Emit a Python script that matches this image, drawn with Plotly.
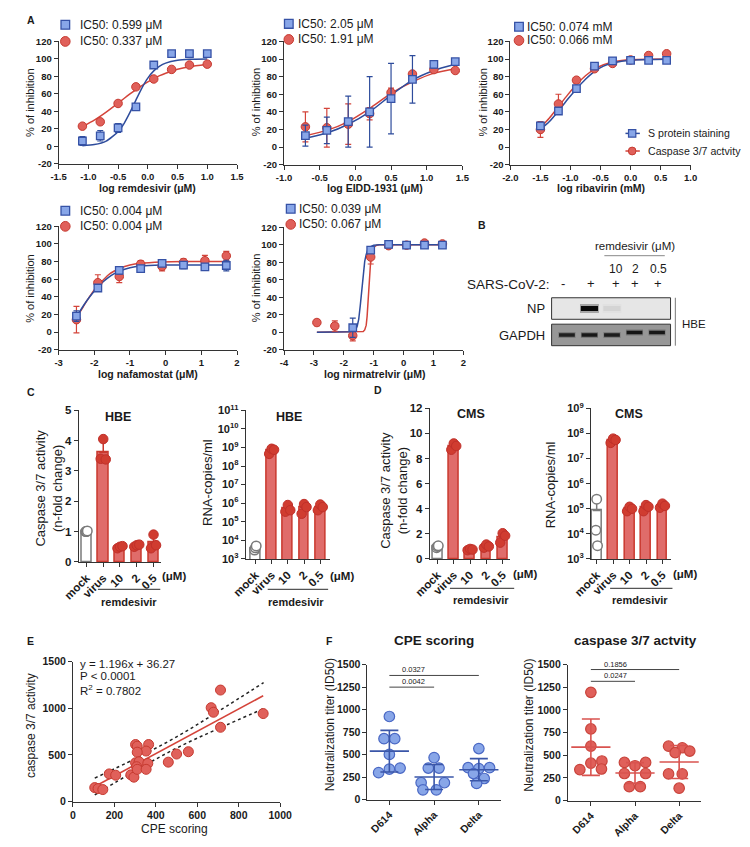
import numpy as np
import plotly.graph_objects as go

# The page shows the figure inside the default 8px body margin.
OFF = 8
W, H = 734, 831
FONT = "Liberation Sans, Arial, Helvetica, sans-serif"
TXT = "#1a1a1a"
AXC = "#333333"
BLUE_FILL = "#88a6e8"
BLUE_EDGE = "#3652a6"
BLUE_LINE = "#2e4c9c"
RED_FILL = "#e0605a"
RED_EDGE = "#c63a30"
RED_LINE = "#d4443a"
BAR_FILL = "#e06c6a"
BAR_EDGE = "#c9382e"
DOT_RED = "#d03c30"
MOCK_GRAY = "#7a7a7a"

# ---------------- Panel A data ----------------
a_ytick_vals = [-20, 0, 20, 40, 60, 80, 100, 120]
a_ytick_text = ["-20", "0", "20", "40", "60", "80", "100", "120"]
ic50_s_labels = ["IC50: 0.599 \u03bcM", "IC50: 2.05 \u03bcM", "IC50: 0.074 mM", "IC50: 0.004 \u03bcM", "IC50: 0.039 \u03bcM"]
ic50_c_labels = ["IC50: 0.337 \u03bcM", "IC50: 1.91 \u03bcM", "IC50: 0.066 mM", "IC50: 0.004 \u03bcM", "IC50: 0.067 \u03bcM"]
a_xtitles = ["log remdesivir (\u03bcM)", "log EIDD-1931 (\u03bcM)", "log ribavirin (mM)",
             "log nafamostat (\u03bcM)", "log nirmatrelvir (\u03bcM)"]

# A1 remdesivir
rem_x = [-1.1, -0.8, -0.5, -0.2, 0.1, 0.4, 0.7, 1.0]
rem_s = [6, 12, 21, 45, 93, 106, 106, 106]
rem_s_err = [5, 6, 5, 3, 2, 1.5, 1.5, 1.5]
rem_c = [23, 28, 49, 68, 77, 88, 93, 94]
rem_c_err = [1, 1.5, 1.5, 1.5, 1, 1, 1, 1]
rem_fit_x = [-1.1, -0.9, -0.7, -0.5, -0.4, -0.3, -0.2, -0.1, 0.0, 0.1, 0.2, 0.3, 0.5, 0.7, 1.0]
rem_fit_s = [0.6, 1.9, 5.9, 16.7, 26, 38.7, 52.9, 66.6, 78, 86.3, 91.8, 95.2, 98.4, 99.5, 99.9]
rem_fit_c = [22.5, 29.9, 39.1, 49.4, 54.7, 59.9, 64.9, 69.5, 73.7, 77.5, 80.8, 83.6, 88.1, 91.1, 94.0]
rem_xticks = [-1.5, -1.0, -0.5, 0.0, 0.5, 1.0, 1.5]
rem_xtick_text = ["-1.5", "-1.0", "-0.5", "0.0", "0.5", "1.0", "1.5"]

# A2 EIDD-1931
eidd_x = [-0.7, -0.4, -0.1, 0.2, 0.5, 0.8, 1.1, 1.4]
eidd_s = [13, 19, 29, 40, 55, 77, 94, 97]
eidd_s_err = [12, 15, 29, 40, 40, 27, 4, 1]
eidd_c = [23, 22, 26, 38, 62, 83, 88, 87]
eidd_c_err = [17, 22, 23, 7, 5, 2, 3, 1]
eidd_fit_x = [-0.7, -0.4, -0.1, 0.2, 0.5, 0.8, 1.1, 1.4]
eidd_fit_s = [10, 16, 26, 40, 59, 76, 87, 94]
eidd_fit_c = [13, 19, 29, 44, 61, 74, 84, 89]
eidd_xticks = [-1.0, -0.5, 0.0, 0.5, 1.0, 1.5]
eidd_xtick_text = ["-1.0", "-0.5", "0.0", "0.5", "1.0", "1.5"]

# A3 ribavirin
riba_x = [-1.5, -1.2, -0.9, -0.6, -0.3, 0.0, 0.3, 0.6]
riba_s = [24, 41, 66.5, 92, 98, 98.5, 98.5, 98.5]
riba_s_err = [4, 2, 2, 1.5, 1, 1, 1, 1]
riba_c = [20, 49, 76, 89, 95, 99, 104, 106]
riba_c_err = [9, 11, 3, 1, 1, 1, 1.5, 1]
riba_fit_x = [-1.5, -1.35, -1.2, -1.05, -0.9, -0.75, -0.6, -0.45, -0.3, -0.15, 0.0, 0.3, 0.6]
riba_fit_s = [20, 29, 41, 54, 66, 77, 86, 92, 95.5, 97.5, 98.7, 99.5, 99.8]
riba_fit_c = [22, 33, 46, 59, 71, 81, 88.5, 93.5, 96.5, 98.3, 99.3, 99.9, 100]
riba_xticks = [-2.0, -1.5, -1.0, -0.5, 0.0, 0.5, 1.0]
riba_xtick_text = ["-2.0", "-1.5", "-1.0", "-0.5", "0.0", "0.5", "1.0"]

# A4 nafamostat
nafa_x = [-2.5, -1.9, -1.3, -0.7, -0.1, 0.5, 1.1, 1.7]
nafa_s = [18, 50, 70, 72, 78, 76, 74, 75.5]
nafa_s_err = [6, 3, 4, 3, 2, 4, 3, 6]
nafa_c = [14, 56, 63, 77, 74.5, 79, 81, 86.5]
nafa_c_err = [15, 9, 7, 4, 5, 4, 6, 5]
nafa_fit_x = [-2.5, -2.35, -2.2, -2.05, -1.9, -1.75, -1.6, -1.45, -1.3, -1.0, -0.7, -0.1, 0.5, 1.1, 1.7]
nafa_fit_s = [17, 27, 36, 44, 51, 57, 62, 66, 69, 73, 75, 76, 76, 76, 76]
nafa_fit_c = [16, 26, 36, 45, 53, 59, 65, 69, 72, 76, 78, 79.5, 80, 80, 80]
nafa_xticks = [-3, -2, -1, 0, 1, 2]
nafa_xtick_text = ["-3", "-2", "-1", "0", "1", "2"]

# A5 nirmatrelvir
nirm_s_x = [-1.7, -1.1, -0.5, 0.1, 0.7, 1.3]
nirm_s = [5, 94, 100.5, 99.6, 99.6, 99.6]
nirm_s_err = [11, 3, 1, 1, 1, 1]
nirm_c_x = [-2.9, -2.3, -1.7, -1.1, -0.5, 0.1, 0.7, 1.3]
nirm_c = [11, 7, -4, 86, 99, 99.6, 102, 101]
nirm_c_err = [3.5, 6, 6, 8, 1, 1, 1, 1]
nirm_fit_s_x = [-2.9, -2.0, -1.8, -1.7, -1.6, -1.55, -1.5, -1.45, -1.4, -1.35, -1.3, -1.25, -1.2, -1.1, -1.0, -0.8, 1.3]
nirm_fit_s = [0, 0.1, 0.4, 1, 3, 7, 15, 30, 50, 68, 81, 89, 94, 98, 99.5, 100, 100]
nirm_fit_c_x = [-2.9, -1.5, -1.35, -1.3, -1.25, -1.22, -1.19, -1.16, -1.13, -1.1, -1.05, -1.0, -0.9, -0.8, 1.3]
nirm_fit_c = [0, 0.1, 0.8, 2.5, 8, 18, 35, 53, 70, 82, 93, 97, 99.5, 100, 100]
nirm_xticks = [-4, -3, -2, -1, 0, 1, 2]
nirm_xtick_text = ["-4", "-3", "-2", "-1", "0", "1", "2"]

# ---------------- Panel B (western blot) ----------------
blot_lanes = [1, 2, 3, 4, 5]
blot_sars = ["-", "+", "+", "+", "+"]
blot_doses = ["10", "2", "0.5"]
np_band = [0.0, 1.0, 0.06, 0.0, 0.0]
gapdh_band = [0.85, 0.92, 0.88, 0.95, 0.92]
np_row = [38, 38, 38, 38, 38]
gapdh_row = [11, 11, 11, 13.5, 13.5]

# ---------------- Panels C & D ----------------
cd_labels = ["mock", "virus", "10", "2", "0.5"]
cd_jitter = [-0.15, 0.0, 0.15]
hbe_casp = [[1.0, 1.0, 1.02], [3.4, 4.05, 3.38], [0.45, 0.5, 0.52], [0.5, 0.55, 0.57], [0.45, 0.9, 0.55]]
hbe_rna = [[3.0e3, 4.0e3, 5.0e3], [4.5e8, 8.5e8, 7.5e8], [3.5e5, 8e5, 4.2e5], [2.7e5, 9e5, 6.2e5], [4.2e5, 8.5e5, 6.2e5]]
cms_casp = [[0.9, 1.0, 1.05], [8.7, 9.2, 9.0], [0.7, 0.8, 0.75], [0.9, 1.15, 1.0], [1.3, 2.05, 1.85]]
cms_rna = [[1.4e4, 2.4e5, 3.4e3], [4.2e7, 6.2e7, 5.5e7], [8e4, 1.2e5, 1.0e5], [8e4, 1.4e5, 1.2e5], [1.1e5, 1.6e5, 1.3e5]]
mock_jitter = [-0.05, 0.0, 0.05]
casp_c_ticks = [0, 1, 2, 3, 4, 5]
casp_d_ticks = [0, 2, 4, 6, 8, 10, 12]
rna_c_exps = [3, 4, 5, 6, 7, 8, 9, 10, 11]
rna_d_exps = [3, 4, 5, 6, 7, 8, 9]

# ---------------- Panel E ----------------
cpe_score = [105, 121, 144, 175, 206, 279, 294, 302, 310, 365, 353, 310, 302, 319, 361, 307, 310, 353,
             460, 500, 557, 667, 678, 712, 712, 918]
casp_act = [150, 140, 129, 297, 283, 287, 262, 612, 594, 612, 542, 530, 416, 427, 409, 374, 346, 346,
            423, 510, 535, 1007, 958, 1196, 797, 944]
reg_slope, reg_intercept = 1.196, 36.27
ci_x = [105, 300, 500, 700, 920]
ci_upper = [252, 460, 694, 965, 1276]
ci_lower = [72, 330, 574, 781, 996]
e_xticks = [0, 200, 400, 600, 800, 1000]
e_yticks = [0, 500, 1000, 1500]

# ---------------- Panel F ----------------
f_groups = ["D614", "Alpha", "Delta"]
cpe_titers = [[924, 677, 677, 503, 300, 351, 340], [467, 351, 351, 188, 188, 109, 109],
              [568, 355, 345, 355, 290, 235, 180]]
cpe_jitter = [[0, -0.12, 0.12, 0, -0.24, 0.24, 0.0], [0, -0.13, 0.11, -0.29, 0.23, -0.25, 0.05],
              [0, -0.24, 0.0, 0.24, -0.12, 0.12, -0.05]]
caspF_titers = [[1195, 791, 601, 413, 437, 342, 349], [421, 421, 385, 299, 299, 154, 154],
                [601, 583, 529, 547, 295, 295, 137]]
caspF_jitter = [[0, 0, 0, 0, 0.25, -0.25, 0.24], [-0.24, 0.24, 0, -0.24, 0.24, -0.13, 0.12],
                [-0.24, 0.07, -0.09, 0.24, -0.24, 0.07, 0]]
cpe_sig = [("0.0327", 0, 2, 1380), ("0.0042", 0, 1, 1250)]
caspF_sig = [("0.1856", 0, 2, 1446), ("0.0247", 0, 1, 1316)]
f_yticks = [0, 250, 500, 750, 1000, 1250, 1500]

# =====================================================================
fig = go.Figure()
layout_axes = {}
annotations = []
shapes = []


def X(p):
    return (p - OFF) / W


def Y(p):
    return 1 - (p - OFF) / H


def axref(n):
    return ("x", "y") if n == 1 else (f"x{n}", f"y{n}")


def axkey(n):
    return ("xaxis", "yaxis") if n == 1 else (f"xaxis{n}", f"yaxis{n}")


def base_axis(size=10):
    return dict(showline=True, linecolor=AXC, linewidth=1, ticks="outside", ticklen=4, tickwidth=1,
                tickcolor=AXC, showgrid=False, zeroline=False, fixedrange=True,
                tickfont=dict(family=FONT, size=size, color=TXT, weight="bold"))


def set_axes(n, xpx, ypx, xkw, ykw, xsize=10, ysize=10):
    xk, yk = axkey(n)
    xr, yr = axref(n)
    xd = base_axis(xsize)
    xd.update(domain=[X(xpx[0]), X(xpx[1])], anchor=yr)
    xd.update(xkw)
    yd = base_axis(ysize)
    yd.update(domain=[Y(ypx[1]), Y(ypx[0])], anchor=xr)
    yd.update(ykw)
    layout_axes[xk] = xd
    layout_axes[yk] = yd


def ann(text, x, y, size=11, bold=False, xanchor="center", yanchor="middle", angle=0, color=TXT):
    annotations.append(dict(text=text, x=X(x), y=Y(y), xref="paper", yref="paper", showarrow=False,
                            font=dict(family=FONT, size=size, color=color,
                                      weight="bold" if bold else "normal"),
                            xanchor=xanchor, yanchor=yanchor, textangle=angle))


def hline_px(x0, x1, y, color="#444", width=1):
    shapes.append(dict(type="line", xref="paper", yref="paper", x0=X(x0), x1=X(x1), y0=Y(y), y1=Y(y),
                       line=dict(color=color, width=width), layer="above"))


def square_px(cx, cy, r, fill, edge, lw=1.2):
    shapes.append(dict(type="rect", xref="paper", yref="paper", x0=X(cx - r), x1=X(cx + r),
                       y0=Y(cy + r), y1=Y(cy - r), fillcolor=fill, line=dict(color=edge, width=lw),
                       layer="above"))


def circle_px(cx, cy, r, fill, edge, lw=1.2):
    shapes.append(dict(type="circle", xref="paper", yref="paper", x0=X(cx - r), x1=X(cx + r),
                       y0=Y(cy + r), y1=Y(cy - r), fillcolor=fill, line=dict(color=edge, width=lw),
                       layer="above"))


# ---------------- Panel A ----------------
def dose_panel(n, sx, sy, se, cx, cy, ce, fsx, fsy, fcx, fcy, shape="spline"):
    xr, yr = axref(n)
    common = dict(xaxis=xr, yaxis=yr, hoverinfo="skip", showlegend=False)
    ln = dict(width=1.5, shape=shape)
    if shape == "spline":
        ln["smoothing"] = 0.6
    fig.add_trace(go.Scatter(x=fcx, y=fcy, mode="lines", line=dict(color=RED_LINE, **ln), **common))
    fig.add_trace(go.Scatter(x=fsx, y=fsy, mode="lines", line=dict(color=BLUE_LINE, **ln), **common))
    fig.add_trace(go.Scatter(x=cx, y=cy, mode="markers",
                             marker=dict(symbol="circle", size=8.5, color=RED_FILL,
                                         line=dict(color=RED_EDGE, width=1)),
                             error_y=dict(type="data", array=ce, color=RED_LINE, thickness=1.2, width=3),
                             **common))
    fig.add_trace(go.Scatter(x=sx, y=sy, mode="markers",
                             marker=dict(symbol="square", size=7.5, color=BLUE_FILL,
                                         line=dict(color=BLUE_EDGE, width=1.3)),
                             error_y=dict(type="data", array=se, color=BLUE_LINE, thickness=1.2, width=3),
                             **common))


a_specs = [
    (1, (42, 228), (34, 159), [-1.5, 1.5], rem_xticks, rem_xtick_text),
    (2, (277, 463), (34, 160), [-1.0, 1.5], eidd_xticks, eidd_xtick_text),
    (3, (513, 701), (34, 160), [-2.0, 1.0], riba_xticks, riba_xtick_text),
    (4, (42, 228), (223, 349), [-3, 2], nafa_xticks, nafa_xtick_text),
    (5, (277, 464), (224, 349), [-4, 2], nirm_xticks, nirm_xtick_text),
]
for n, xpx, ypx, xrng, xt, xtt in a_specs:
    set_axes(n, xpx, ypx, dict(range=xrng, tickvals=xt, ticktext=xtt),
             dict(range=[-20, 120], tickvals=a_ytick_vals, ticktext=a_ytick_text), xsize=9.5, ysize=9.5)

dose_panel(1, rem_x, rem_s, rem_s_err, rem_x, rem_c, rem_c_err, rem_fit_x, rem_fit_s, rem_fit_x, rem_fit_c)
dose_panel(2, eidd_x, eidd_s, eidd_s_err, eidd_x, eidd_c, eidd_c_err, eidd_fit_x, eidd_fit_s, eidd_fit_x, eidd_fit_c)
dose_panel(3, riba_x, riba_s, riba_s_err, riba_x, riba_c, riba_c_err, riba_fit_x, riba_fit_s, riba_fit_x, riba_fit_c)
dose_panel(4, nafa_x, nafa_s, nafa_s_err, nafa_x, nafa_c, nafa_c_err, nafa_fit_x, nafa_fit_s, nafa_fit_x, nafa_fit_c)
dose_panel(5, nirm_s_x, nirm_s, nirm_s_err, nirm_c_x, nirm_c, nirm_c_err, nirm_fit_s_x, nirm_fit_s,
           nirm_fit_c_x, nirm_fit_c, shape="linear")

# IC50 legends (marker x, text x, row y1, row y2)
leg_pos = [(49, 62, 17, 34), (282, 289, 16, 32), (522, 528, 19, 33), (49, 62, 207, 223), (284, 291, 205, 221)]
for i, (mx, tx, y1, y2) in enumerate(leg_pos):
    square_px(mx, y1, 4.5, BLUE_FILL, BLUE_EDGE, 1.3)
    circle_px(mx, y2, 5, RED_FILL, RED_EDGE, 1)
    ann(ic50_s_labels[i], tx, y1, size=12, xanchor="left")
    ann(ic50_c_labels[i], tx, y2, size=12, xanchor="left")

# series legend in A3
hline_px(633, 648, 128, BLUE_LINE, 1.5)
square_px(640, 128, 3.8, BLUE_FILL, BLUE_EDGE, 1.2)
ann("S protein staining", 654, 128, size=10.6, xanchor="left")
hline_px(633, 648, 146, RED_LINE, 1.5)
circle_px(640, 146, 4, RED_FILL, RED_EDGE, 1)
ann("Caspase 3/7 actvity", 654, 146, size=10.6, xanchor="left")

# axis titles A
a_xt_pos = [(135, 184), (372, 184), (608, 184), (135, 374), (372, 374)]
for t, (x, y) in zip(a_xtitles, a_xt_pos):
    ann(t, x, y, size=10.5, bold=True)
for (x, y) in [(12, 96), (248, 96), (485, 96), (12, 286), (248, 286)]:
    ann("% of inhibition", x, y, size=11, angle=-90)

# ---------------- Panel B (blot) ----------------
set_axes(13, (556, 680), (296, 345), dict(range=[0.32, 5.6], visible=False), dict(range=[0, 49], visible=False))
shapes.append(dict(type="rect", xref="paper", yref="paper", x0=X(556), x1=X(680), y0=Y(318), y1=Y(296),
                   fillcolor="#e6e6e6", line=dict(color="#333", width=1), layer="below"))
shapes.append(dict(type="rect", xref="paper", yref="paper", x0=X(556), x1=X(680), y0=Y(345), y1=Y(323),
                   fillcolor="#979797", line=dict(color="#333", width=1), layer="below"))
for lane, a_np, a_g, rn, rg in zip(blot_lanes, np_band, gapdh_band, np_row, gapdh_row):
    if a_np > 0:
        fig.add_trace(go.Scatter(x=[lane - 0.42, lane + 0.42], y=[rn, rn], mode="lines",
                                 line=dict(color=f"rgba(20,20,20,{0.3 * a_np})", width=9),
                                 xaxis="x13", yaxis="y13", hoverinfo="skip", showlegend=False))
        fig.add_trace(go.Scatter(x=[lane - 0.38, lane + 0.38], y=[rn, rn], mode="lines",
                                 line=dict(color=f"rgba(10,10,10,{a_np})", width=5),
                                 xaxis="x13", yaxis="y13", hoverinfo="skip", showlegend=False))
    fig.add_trace(go.Scatter(x=[lane - 0.38, lane + 0.38], y=[rg, rg], mode="lines",
                             line=dict(color=f"rgba(40,40,40,{0.3 * a_g})", width=6),
                             xaxis="x13", yaxis="y13", hoverinfo="skip", showlegend=False))
    fig.add_trace(go.Scatter(x=[lane - 0.35, lane + 0.35], y=[rg, rg], mode="lines",
                             line=dict(color=f"rgba(15,15,15,{a_g})", width=3.5),
                             xaxis="x13", yaxis="y13", hoverinfo="skip", showlegend=False))
shapes.append(dict(type="line", xref="paper", yref="paper", x0=X(685), x1=X(685), y0=Y(296), y1=Y(345),
                   line=dict(color="#777", width=1)))
ann("remdesivir (\u03bcM)", 643, 243, size=11.5)
hline_px(611, 674, 253, "#888", 1)
for t, x in zip(blot_doses, [623, 643, 667]):
    ann(t, x, 267, size=12)
ann("SARS-CoV-2:", 556, 282, size=13.5, xanchor="right")
for t, x in zip(blot_sars, [568, 597, 623, 643, 667]):
    ann(t, x, 281, size=13)
ann("NP", 551, 307, size=13, xanchor="right")
ann("GAPDH", 551, 335, size=13, xanchor="right")
ann("HBE", 690, 323, size=11.5, xanchor="left")


# ---------------- Panels C & D ----------------
def bar_panel(n, groups):
    xr, yr = axref(n)
    means = [float(np.mean(g)) for g in groups]
    sds = [float(np.std(g, ddof=1)) for g in groups]
    common = dict(xaxis=xr, yaxis=yr, hoverinfo="skip", showlegend=False)
    fig.add_trace(go.Bar(x=[0], y=[means[0]], width=0.6,
                         marker=dict(color="white", line=dict(color=MOCK_GRAY, width=1.5)),
                         error_y=dict(type="data", symmetric=False, array=[sds[0]], arrayminus=[0],
                                      color=MOCK_GRAY, thickness=1.5, width=4), **common))
    fig.add_trace(go.Bar(x=[1, 2, 3, 4], y=means[1:], width=0.6,
                         marker=dict(color=BAR_FILL, line=dict(color=BAR_EDGE, width=1.5)),
                         error_y=dict(type="data", symmetric=False, array=sds[1:], arrayminus=[0] * 4,
                                      color=BAR_EDGE, thickness=1.5, width=4), **common))
    mx = [0 + j for j in mock_jitter]
    fig.add_trace(go.Scatter(x=mx, y=groups[0], mode="markers",
                             marker=dict(size=9.5, color="white", line=dict(color=MOCK_GRAY, width=1.5)),
                             cliponaxis=False, **common))
    tx, ty = [], []
    for i, g in enumerate(groups[1:], start=1):
        for j, v in zip(cd_jitter, g):
            tx.append(i + j)
            ty.append(v)
    fig.add_trace(go.Scatter(x=tx, y=ty, mode="markers",
                             marker=dict(size=9.5, color=DOT_RED, line=dict(color="#c0302a", width=1)),
                             cliponaxis=False, **common))


def exp_labels(exps):
    return [f"10<sup>{e}</sup>" for e in exps]


cx_common = dict(tickvals=[0, 1, 2, 3, 4], ticktext=cd_labels, tickangle=-45, ticklen=4)
set_axes(6, (63, 149), (411, 566), dict(range=[-0.46, 4.46], **cx_common),
         dict(range=[0, 5], tickvals=casp_c_ticks), xsize=11.5, ysize=11.5)
set_axes(7, (237, 325), (411, 563), dict(range=[-0.6, 4.6], **cx_common),
         dict(type="log", range=[3, 11], tickvals=[10 ** e for e in rna_c_exps],
              ticktext=exp_labels(rna_c_exps)), xsize=11.5, ysize=11)
set_axes(8, (429, 513), (409, 563), dict(range=[-0.47, 4.47], **cx_common),
         dict(range=[0, 12], tickvals=casp_d_ticks), xsize=11.5, ysize=11.5)
set_axes(9, (597, 681), (409, 563), dict(range=[-0.35, 4.55], **cx_common),
         dict(type="log", range=[3, 9], tickvals=[10 ** e for e in rna_d_exps],
              ticktext=exp_labels(rna_d_exps)), xsize=11.5, ysize=11)
bar_panel(6, hbe_casp)
bar_panel(7, hbe_rna)
bar_panel(8, cms_casp)
bar_panel(9, cms_rna)

ann("HBE", 104, 418, size=12.5, bold=True)
ann("HBE", 282, 418, size=12.5, bold=True)
ann("CMS", 472, 415, size=12.5, bold=True)
ann("CMS", 637, 415, size=12.5, bold=True)
ann("Caspase 3/7 activity<br>(n-fold change)", 32, 491, size=13, angle=-90)
ann("RNA-copies/ml", 197, 485, size=13, angle=-90)
ann("Caspase 3/7 activity<br>(n-fold change)", 392, 493, size=13, angle=-90)
ann("RNA-copies/ml", 555, 487, size=13, angle=-90)
for (x, y) in [(162, 580), (337, 580), (528, 578), (695, 578)]:
    ann("(\u03bcM)", x, y, size=11.5, bold=True)
for (x0, x1, yl, xt, yt) in [(83, 148, 594, 115, 607), (260, 323, 594, 290, 607),
                              (450, 517, 593, 482, 605), (617, 682, 593, 648, 605)]:
    hline_px(x0, x1, yl, "#555", 1.2)
    ann("remdesivir", xt, yt, size=11, bold=True)

# ---------------- Panel E ----------------
set_axes(10, (57, 273), (668, 811), dict(range=[0, 1000], tickvals=e_xticks),
         dict(range=[0, 1500], tickvals=e_yticks), xsize=10.5, ysize=10.5)
fig.add_trace(go.Scatter(x=ci_x, y=ci_upper, mode="lines", line=dict(color="#222", width=1.5, dash="dot",
                                                                     shape="spline"),
                         xaxis="x10", yaxis="y10", hoverinfo="skip", showlegend=False))
fig.add_trace(go.Scatter(x=ci_x, y=ci_lower, mode="lines", line=dict(color="#222", width=1.5, dash="dot",
                                                                     shape="spline"),
                         xaxis="x10", yaxis="y10", hoverinfo="skip", showlegend=False))
reg_x = [min(cpe_score), max(cpe_score)]
reg_y = [reg_slope * v + reg_intercept for v in reg_x]
fig.add_trace(go.Scatter(x=reg_x, y=reg_y, mode="lines", line=dict(color=RED_LINE, width=1.6),
                         xaxis="x10", yaxis="y10", hoverinfo="skip", showlegend=False))
fig.add_trace(go.Scatter(x=cpe_score, y=casp_act, mode="markers",
                         marker=dict(size=10, color=RED_FILL, line=dict(color=RED_EDGE, width=1)),
                         xaxis="x10", yaxis="y10", hoverinfo="skip", showlegend=False, cliponaxis=False))
ann("y = 1.196x + 36.27", 62, 670, size=11.5, xanchor="left")
ann("P < 0.0001", 62, 683, size=11.5, xanchor="left")
ann("R<sup>2</sup> = 0.7802", 62, 697, size=11.5, xanchor="left")
ann("caspase 3/7 activity", 14, 733, size=12, angle=-90)
ann("CPE scoring", 163, 839, size=12)


# ---------------- Panel F ----------------
def dot_panel(n, groups, jit, fill, edge, linec, sig):
    xr, yr = axref(n)
    common = dict(xaxis=xr, yaxis=yr, hoverinfo="skip", showlegend=False)
    px_, py_ = [], []
    for i, (g, jj) in enumerate(zip(groups, jit)):
        for v, j in zip(g, jj):
            px_.append(i + j)
            py_.append(v)
    fig.add_trace(go.Scatter(x=px_, y=py_, mode="markers",
                             marker=dict(size=10.5, color=fill, line=dict(color=edge, width=1.2)),
                             cliponaxis=False, **common))
    means = [float(np.mean(g)) for g in groups]
    sds = [float(np.std(g, ddof=1)) for g in groups]
    fig.add_trace(go.Scatter(x=[0, 1, 2], y=means, mode="markers",
                             marker=dict(symbol="line-ew", size=28, line=dict(color=linec, width=1.6)),
                             error_y=dict(type="data", array=sds, color=linec, thickness=1.6, width=9),
                             **common))
    for (t, a, b, yv) in sig:
        shapes.append(dict(type="line", xref=xr, yref=yr, x0=a, x1=b, y0=yv, y1=yv,
                           line=dict(color="#444", width=1)))
        annotations.append(dict(text=t, x=0.55, y=yv, xref=xr, yref=yr, showarrow=False, yanchor="bottom",
                                yshift=-1, font=dict(family=FONT, size=7.5, color=TXT)))


fx_common = dict(tickvals=[0, 1, 2], ticktext=f_groups, tickangle=-45)
set_axes(11, (364, 503), (671, 809), dict(range=[-0.49, 2.49], **fx_common),
         dict(range=[0, 1500], tickvals=f_yticks), xsize=10.5, ysize=10.5)
set_axes(12, (573, 712), (671, 810), dict(range=[-0.52, 2.5], **fx_common),
         dict(range=[0, 1500], tickvals=f_yticks), xsize=10.5, ysize=10.5)
dot_panel(11, cpe_titers, cpe_jitter, BLUE_FILL, "#4a68c4", "#3a56a8", cpe_sig)
dot_panel(12, caspF_titers, caspF_jitter, RED_FILL, "#c9443c", "#d9534f", caspF_sig)
ann("CPE scoring", 433, 646, size=13.5, bold=True)
ann("caspase 3/7 actvity", 643, 646, size=13.5, bold=True)
ann("Neutralization titer (ID50)", 325, 733, size=12, angle=-90)
ann("Neutralization titer (ID50)", 533, 733, size=12, angle=-90)

# panel letters
for t, x, y in [("A", 13, 12), ("B", 483, 222), ("C", 13, 392), ("D", 375, 390), ("E", 13, 647), ("F", 324, 647)]:
    ann(t, x, y, size=10.5, bold=True)

fig.update_layout(width=W, height=H, margin=dict(l=0, r=0, t=0, b=0), paper_bgcolor="white",
                  plot_bgcolor="white", showlegend=False, annotations=annotations, shapes=shapes,
                  font=dict(family=FONT, color=TXT), bargap=0, **layout_axes)

fig.write_html("out.html", config={"displayModeBar": False})
